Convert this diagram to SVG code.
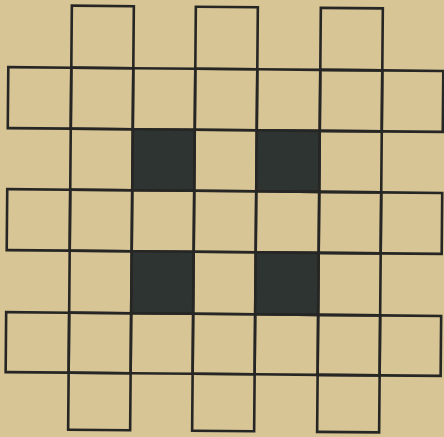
<svg xmlns="http://www.w3.org/2000/svg" width="444" height="437" viewBox="0 0 444 437">
<style>
.c{fill:none;stroke:#262624;stroke-width:2.6;stroke-linejoin:miter}
.b{fill:#2e3432;stroke:#262624;stroke-width:2.6}
</style>
<rect width="444" height="437" fill="#d8c596"/>
<g transform="rotate(0.5 222 218)">
<!-- row 0 -->
<rect class="c" x="70" y="7" width="62" height="62"/>
<rect class="c" x="194" y="7" width="62" height="62"/>
<rect class="c" x="319" y="7" width="62" height="62"/>
<!-- row 1 -->
<rect class="c" x="7" y="69" width="63" height="61"/>
<rect class="c" x="70" y="69" width="62" height="61"/>
<rect class="c" x="132" y="69" width="62" height="61"/>
<rect class="c" x="194" y="69" width="62" height="61"/>
<rect class="c" x="256" y="69" width="63" height="61"/>
<rect class="c" x="319" y="69" width="62" height="61"/>
<rect class="c" x="381" y="69" width="61" height="61"/>
<!-- row 2 -->
<rect class="c" x="70" y="130" width="62" height="61"/>
<rect class="b" x="132" y="130" width="62" height="61"/>
<rect class="c" x="194" y="130" width="62" height="61"/>
<rect class="b" x="256" y="130" width="63" height="61"/>
<rect class="c" x="319" y="130" width="62" height="61"/>
<!-- row 3 -->
<rect class="c" x="7" y="191" width="63" height="61"/>
<rect class="c" x="70" y="191" width="62" height="61"/>
<rect class="c" x="132" y="191" width="62" height="61"/>
<rect class="c" x="194" y="191" width="62" height="61"/>
<rect class="c" x="256" y="191" width="63" height="61"/>
<rect class="c" x="319" y="191" width="62" height="61"/>
<rect class="c" x="381" y="191" width="61" height="61"/>
<!-- row 4 -->
<rect class="c" x="70" y="252" width="62" height="62"/>
<rect class="b" x="132" y="252" width="62" height="62"/>
<rect class="c" x="194" y="252" width="62" height="62"/>
<rect class="b" x="256" y="252" width="63" height="62"/>
<rect class="c" x="319" y="252" width="62" height="62"/>
<!-- row 5 -->
<rect class="c" x="7" y="314" width="63" height="60"/>
<rect class="c" x="70" y="314" width="62" height="60"/>
<rect class="c" x="132" y="314" width="62" height="60"/>
<rect class="c" x="194" y="314" width="62" height="60"/>
<rect class="c" x="256" y="314" width="63" height="60"/>
<rect class="c" x="319" y="314" width="62" height="60"/>
<rect class="c" x="381" y="314" width="61" height="60"/>
<!-- row 6 -->
<rect class="c" x="70" y="374" width="62" height="57"/>
<rect class="c" x="194" y="374" width="62" height="57"/>
<rect class="c" x="319" y="374" width="62" height="57"/>
</g>
</svg>
